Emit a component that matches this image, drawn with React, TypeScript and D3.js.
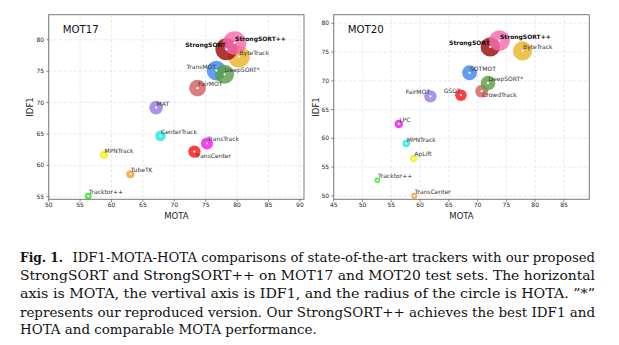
import React from "react";
import * as d3 from "d3";

// ---------- data ----------
const names17 = ["Tracktor++", "TubeTK", "MPNTrack", "CenterTrack", "MAT", "TransTrack", "TransCenter", "FairMOT", "TransMOT", "DeepSORT*", "ByteTrack", "StrongSORT", "StrongSORT++"];
const mota17 = [56.3, 63.0, 58.8, 67.8, 67.1, 75.2, 73.2, 73.7, 76.7, 78.0, 80.3, 78.3, 79.6];
const idf17 = [55.1, 58.6, 61.7, 64.7, 69.2, 63.5, 62.2, 72.3, 75.1, 74.5, 77.3, 78.5, 79.5];
const hota17 = [44.8, 48.0, 49.0, 52.2, 56.0, 54.1, 54.5, 59.3, 61.7, 61.2, 63.1, 63.5, 64.4];

const names20 = ["TransCenter", "Tracktor++", "ApLift", "MPNTrack", "LPC", "FairMOT", "GSDT", "CrowdTrack", "DeepSORT*", "SOTMOT", "ByteTrack", "StrongSORT", "StrongSORT++"];
const mota20 = [59.0, 52.6, 58.9, 57.6, 56.3, 61.8, 67.1, 70.7, 71.8, 68.6, 77.8, 72.2, 73.8];
const idf20 = [50.0, 52.7, 56.5, 59.1, 62.5, 67.3, 67.5, 68.2, 69.6, 71.4, 75.2, 75.9, 77.0];
const hota20 = [43.5, 42.1, 46.6, 46.8, 49.0, 54.6, 53.6, 55.0, 57.1, 57.4, 61.3, 61.5, 62.6];

const xTicks17 = [50, 55, 60, 65, 70, 75, 80, 85, 90];
const yTicks17 = [55, 60, 65, 70, 75, 80];
const xTicks20 = [45, 50, 55, 60, 65, 70, 75, 80, 85];
const yTicks20 = [50, 55, 60, 65, 70, 75, 80];

const captionLines = [
  "IDF1-MOTA-HOTA comparisons of state-of-the-art trackers with our proposed",
  "StrongSORT and StrongSORT++ on MOT17 and MOT20 test sets. The horizontal",
  "axis is MOTA, the vertival axis is IDF1, and the radius of the circle is HOTA. \u201D*\u201D",
  "represents our reproduced version. Our StrongSORT++ achieves the best IDF1 and",
  "HOTA and comparable MOTA performance.",
];

// ---------- styles ----------
const colors17 = ["#22ee22", "#f99a30", "#f2ee10", "#22e6ee", "#9a7ae8", "#f018f0", "#ff1515", "#d46060", "#3f86f0", "#5aa045", "#eab52a", "#9c0c0c", "#f76aae"];
const colors20 = ["#f99a30", "#22ee22", "#f2ee10", "#22e6ee", "#f018f0", "#9a7ae8", "#ff1515", "#d46060", "#5aa045", "#3f86f0", "#eab52a", "#9c0c0c", "#f76aae"];
const pos17 = ["s", "s", "s", "s", "s", "s", "b", "s", "e", "s", "s", "e", "s"];
const pos20 = ["s", "s", "s", "s", "s", "e", "e", "b", "s", "s", "s", "e", "s"];

const rLog = d3.scaleLinear().domain([44.8, 64.4]).range([Math.log(3.3), Math.log(11.7)]);
const radius = (h: number) => Math.exp(rLog(h));

const FONT = "DejaVu Sans";

type PanelProps = {
  title: string;
  names: string[];
  mota: number[];
  idf: number[];
  hota: number[];
  colors: string[];
  pos: string[];
  xDomain: [number, number];
  yDomain: [number, number];
  xRange: [number, number];
  yRange: [number, number];
  xTicks: number[];
  yTicks: number[];
  ylabelX: number;
};

function Panel(p: PanelProps) {
  const x = d3.scaleLinear().domain(p.xDomain).range(p.xRange);
  const y = d3.scaleLinear().domain(p.yDomain).range(p.yRange);
  const [x0, x1] = p.xRange;
  const [y1, y0] = p.yRange;
  const idx = p.names.map((_, i) => i);
  return (
    <g>
      {p.xTicks.map((t) => (
        <line key={"gx" + t} x1={x(t)} x2={x(t)} y1={y0} y2={y1} stroke="#dcdcdc" strokeWidth={0.6} strokeDasharray="3,2" />
      ))}
      {p.yTicks.map((t) => (
        <line key={"gy" + t} x1={x0} x2={x1} y1={y(t)} y2={y(t)} stroke="#dcdcdc" strokeWidth={0.6} strokeDasharray="3,2" />
      ))}
      {idx.map((i) => (
        <circle key={"c" + i} cx={x(p.mota[i])} cy={y(p.idf[i])} r={radius(p.hota[i])} fill={p.colors[i]} fillOpacity={0.82} />
      ))}
      {idx.map((i) => (
        <circle key={"d" + i} cx={x(p.mota[i])} cy={y(p.idf[i])} r={1.1} fill="#ffffff" />
      ))}
      {idx.map((i) => {
        const cx = x(p.mota[i]);
        const cy = y(p.idf[i]);
        const ps = p.pos[i];
        const bold = p.names[i].startsWith("StrongSORT");
        return (
          <text
            key={"l" + i}
            x={ps === "e" ? cx - 0.5 : cx + 0.5}
            y={ps === "b" ? cy + 6.2 : cy - 2}
            textAnchor={ps === "e" ? "end" : "start"}
            fontFamily={FONT}
            fontSize={6}
            fontWeight={bold ? "bold" : "normal"}
            fill={bold ? "#111" : "#333"}
          >
            {p.names[i]}
          </text>
        );
      })}
      <rect x={x0} y={y0} width={x1 - x0} height={y1 - y0} fill="none" stroke="#7a7a7a" strokeWidth={1} />
      {p.xTicks.map((t) => (
        <g key={"tx" + t}>
          <line x1={x(t)} x2={x(t)} y1={y1} y2={y1 + 2.5} stroke="#444" strokeWidth={0.6} />
          <text x={x(t)} y={y1 + 8} textAnchor="middle" fontFamily={FONT} fontSize={6} fill="#222">{t}</text>
        </g>
      ))}
      {p.yTicks.map((t) => (
        <g key={"ty" + t}>
          <line x1={x0 - 2.5} x2={x0} y1={y(t)} y2={y(t)} stroke="#444" strokeWidth={0.6} />
          <text x={x0 - 4.5} y={y(t) + 2.1} textAnchor="end" fontFamily={FONT} fontSize={6} fill="#222">{t}</text>
        </g>
      ))}
      <text x={x0 + 14} y={y0 + 18.6} fontFamily={FONT} fontSize={10.2} fill="#111">{p.title}</text>
      <text x={(x0 + x1) / 2} y={y1 + 19.8} textAnchor="middle" fontFamily={FONT} fontSize={8.5} fill="#222">MOTA</text>
      <text
        transform={`translate(${p.ylabelX},${(y0 + y1) / 2}) rotate(-90)`}
        textAnchor="middle"
        fontFamily={FONT}
        fontSize={8.5}
        fill="#222"
      >
        IDF1
      </text>
    </g>
  );
}

export default function App() {
  const capX0 = 20;
  const capX1 = 595;
  const baselines = [262.3, 280.3, 298.3, 316.5, 334.3];
  const boldW = 43;
  return (
    <svg width={619} height={345} style={{ position: "absolute", left: 0, top: 0, background: "#fff" }}>
      <rect x={0} y={0} width={619} height={345} fill="#fff" />
      <Panel
        title="MOT17"
        names={names17}
        mota={mota17}
        idf={idf17}
        hota={hota17}
        colors={colors17}
        pos={pos17}
        xDomain={[50, 90.65]}
        yDomain={[54.6, 84.0]}
        xRange={[48.7, 304]}
        yRange={[199.3, 14.7]}
        xTicks={xTicks17}
        yTicks={yTicks17}
        ylabelX={33}
      />
      <Panel
        title="MOT20"
        names={names20}
        mota={mota20}
        idf={idf20}
        hota={hota20}
        colors={colors20}
        pos={pos20}
        xDomain={[45, 89.4]}
        yDomain={[49.4, 81.5]}
        xRange={[333.7, 589.3]}
        yRange={[199.3, 14.7]}
        xTicks={xTicks20}
        yTicks={yTicks20}
        ylabelX={318.5}
      />
      <text x={capX0} y={baselines[0]} fontFamily="DejaVu Serif" fontSize={12.5} fontWeight="bold" fill="#111" textLength={boldW} lengthAdjust="spacingAndGlyphs">
        Fig. 1.
      </text>
      {captionLines.map((line, i) => {
        const start = i === 0 ? 72.5 : capX0;
        const last = i === captionLines.length - 1;
        const width = last ? 296.7 : capX1 - start;
        return (
          <text
            key={"cap" + i}
            x={start}
            y={baselines[i]}
            fontFamily="DejaVu Serif"
            fontSize={12.5}
            fill="#111"
            textLength={width}
            lengthAdjust="spacingAndGlyphs"
          >
            {line}
          </text>
        );
      })}
    </svg>
  );
}
